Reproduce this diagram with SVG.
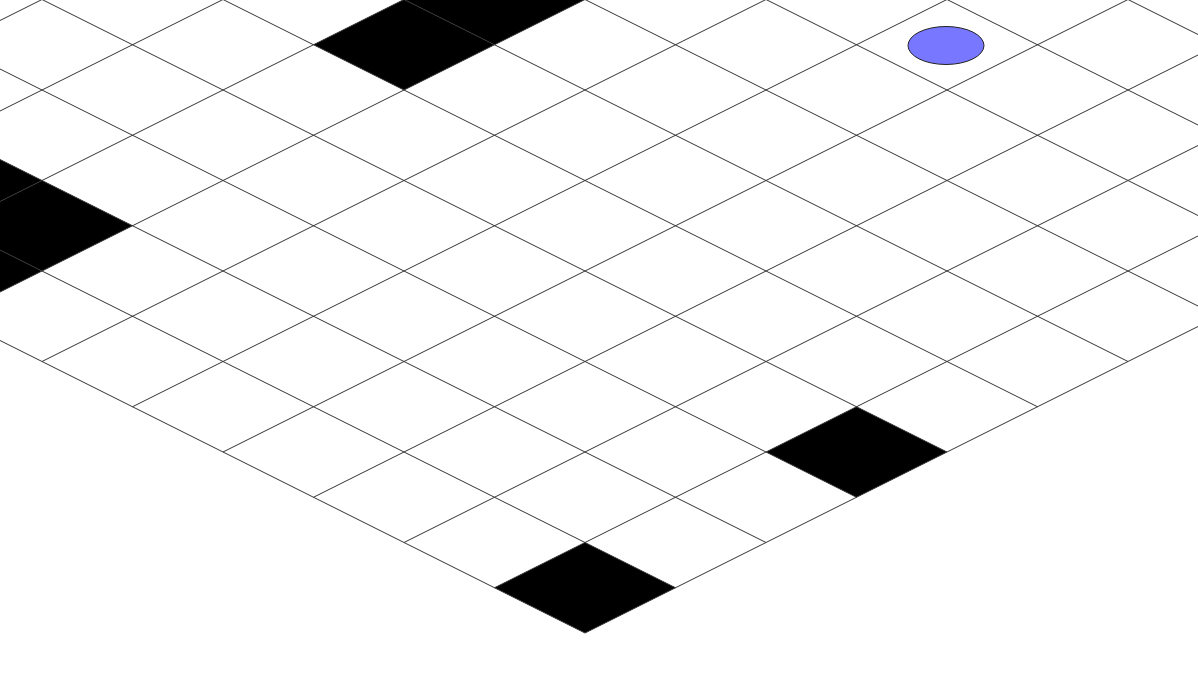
<svg xmlns="http://www.w3.org/2000/svg" width="1198" height="676" viewBox="0 0 1198 676">
<style>
.tile{fill:#000000;stroke:none}
.grid{stroke:#333333;stroke-width:1;fill:none;vector-effect:non-scaling-stroke}
</style>
<rect width="1198" height="676" fill="#ffffff"/>
<g id="board" transform="matrix(90.5,-45.25,-90.5,-45.25,585,633)">
<g id="blocks">
<rect id="block-0-0" class="tile" x="0" y="0" width="1" height="1"/>
<rect id="block-3-0" class="tile" x="3" y="0" width="1" height="1"/>
<rect id="block-5-7" class="tile" x="5" y="7" width="1" height="1"/>
<rect id="block-6-7" class="tile" x="6" y="7" width="1" height="1"/>
<rect id="block-1-7" class="tile" x="1" y="7" width="1" height="1"/>
<rect id="block-1-8" class="tile" x="1" y="8" width="1" height="1"/>
<rect id="block-0-7" class="tile" x="0" y="7" width="1" height="1"/>
</g>
<g id="gridlines">
<path class="grid" d="M0 0H20M0 1H20M0 2H20M0 3H20M0 4H20M0 5H20M0 6H20M0 7H20M0 8H20M0 9H20M0 10H20M0 11H20M0 12H20M0 13H20M0 14H20M0 15H20M0 16H20M0 17H20M0 18H20M0 19H20M0 20H20"/>
<path class="grid" d="M0 0V20M1 0V20M2 0V20M3 0V20M4 0V20M5 0V20M6 0V20M7 0V20M8 0V20M9 0V20M10 0V20M11 0V20M12 0V20M13 0V20M14 0V20M15 0V20M16 0V20M17 0V20M18 0V20M19 0V20M20 0V20"/>
</g>
</g>
<g id="player">
<ellipse cx="946" cy="45.5" rx="38" ry="19" fill="#7777ff" stroke="#222222" stroke-width="1"/>
</g>
</svg>
